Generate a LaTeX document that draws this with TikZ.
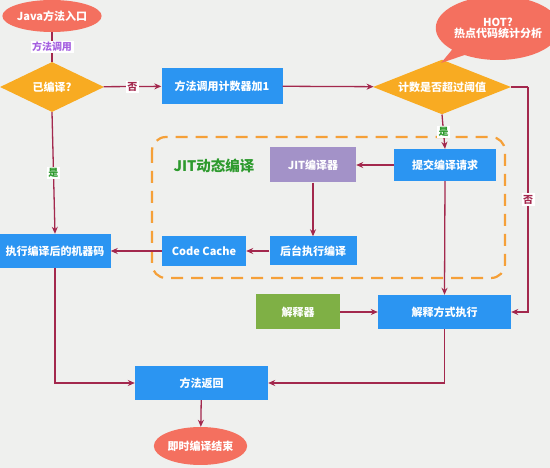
\documentclass[tikz,border=0pt]{standalone}
\usepackage{fontspec}
\setmainfont{Noto Sans CJK SC}
\usetikzlibrary{shapes.geometric,shapes.callouts,arrows.meta}
\definecolor{bgc}{HTML}{EFF0EE}
\definecolor{boxblue}{HTML}{2B95F2}
\definecolor{dorange}{HTML}{F8AB22}
\definecolor{salmon}{HTML}{F4705F}
\definecolor{lav}{HTML}{A392C8}
\definecolor{grn}{HTML}{7FB045}
\definecolor{lnc}{HTML}{A3284D}
\definecolor{lblpurple}{HTML}{A560E0}
\definecolor{lblgreen}{HTML}{2D9A2D}
\definecolor{dashor}{HTML}{F5A038}
\tikzset{
  txt/.style={text=white, font=\bfseries\fontsize{11}{13}\selectfont},
  bluebox/.style={rectangle, fill=boxblue, txt, inner sep=2pt},
  oval/.style={ellipse, fill=salmon, txt, inner sep=0pt},
  decide/.style={diamond, fill=dorange, txt, inner sep=0pt, aspect=2},
  arr/.style={draw=lnc, line width=1.3pt, -{Stealth[length=7pt,width=6pt]}},
  ln/.style={draw=lnc, line width=1.3pt},
  lbl/.style={fill=white, inner sep=1.5pt, font=\bfseries\fontsize{10}{12}\selectfont},
}
\begin{document}
\begin{tikzpicture}[x=1pt,y=-1pt]
\fill[bgc] (0,0) rectangle (550,468);
\useasboundingbox (0,0) rectangle (550,468);
% dashed JIT region
\draw[dashor, line width=2.2pt, dash pattern=on 12pt off 8pt, rounded corners=14pt] (152,137) rectangle (505,278);
\node[text=lblgreen, font=\bfseries\fontsize{14.5}{16}\selectfont] (jittitle) at (214,166) {JIT动态编译};
% nodes
\node[oval, minimum width=80pt, minimum height=32pt] (entry) at (52,16) {Java方法入口};
\node[decide, minimum width=104pt, minimum height=50pt] (comp) at (52,87) {已编译?};
\node[bluebox, minimum width=121pt, minimum height=36pt] (cnt) at (222,86) {方法调用计数器加1};
\node[decide, minimum width=138pt, minimum height=50pt] (thr) at (442,87) {计数是否超过阈值};
\node[ellipse callout, fill=salmon, txt, align=center, inner sep=0pt, minimum width=114pt, minimum height=64pt, callout absolute pointer={(441,63)}] (hot) at (498,28) {HOT?\\[-2pt]热点代码统计分析};
\node[bluebox, minimum width=102pt, minimum height=32pt] (submit) at (445,165) {提交编译请求};
\node[rectangle, fill=lav, txt, minimum width=86pt, minimum height=35pt] (jit) at (313,165) {JIT编译器};
\node[bluebox, minimum width=87pt, minimum height=29pt] (bgc2) at (313,251) {后台执行编译};
\node[bluebox, minimum width=84pt, minimum height=30pt] (cc) at (204,251) {Code Cache};
\node[bluebox, minimum width=111pt, minimum height=34pt] (exec) at (55,251) {执行编译后的机器码};
\node[rectangle, fill=grn, txt, minimum width=84pt, minimum height=35pt] (interpr) at (298,312) {解释器};
\node[bluebox, minimum width=133pt, minimum height=34pt] (interp) at (444.5,312) {解释方式执行};
\node[bluebox, minimum width=133pt, minimum height=34pt] (ret) at (201.5,383) {方法返回};
\node[oval, minimum width=85pt, minimum height=38pt] (end) at (200.5,446) {即时编译结束};
% connectors
\draw[ln] (entry) -- node[lbl, text=lblpurple] {方法调用} (comp);
\draw[arr] (comp) -- node[lbl, text=lnc] {否} (cnt);
\draw[arr] (cnt) -- (thr);
\coordinate (c1) at (528,87);
\draw[ln] (thr.east) -- (c1);
\draw[arr] (c1) |- node[pos=0.25, lbl, text=lnc] {否} (interp.east);
\draw[arr] (thr.south) -- node[lbl, text=lblgreen] {是} (submit.north);
\draw[arr] (submit) -- (jit);
\draw[arr] (jit) -- (bgc2);
\draw[arr] (bgc2) -- (cc);
\draw[arr] (cc) -- (exec);
\draw[arr] (comp.south) -- node[lbl, text=lblgreen] {是} (exec.north);
\draw[arr] (exec.south) |- (ret.west);
\draw[arr] (submit.south) -- (interp.north);
\draw[arr] (interpr) -- (interp);
\draw[arr] (interp.south) |- (ret.east);
\draw[arr] (ret) -- (end);
\end{tikzpicture}
\end{document}
